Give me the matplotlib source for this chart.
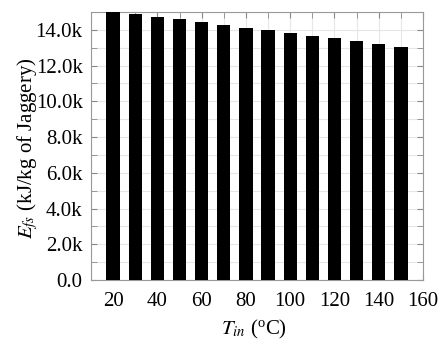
import numpy as np
import matplotlib.pyplot as plt
from matplotlib.ticker import MultipleLocator, FuncFormatter

plt.rcParams['font.family'] = ['Liberation Serif', 'DejaVu Serif']
plt.rcParams['mathtext.fontset'] = 'stix'

temps = [20, 30, 40, 50, 60, 70, 80, 90, 100, 110, 120, 130, 140, 150]
energy = [15000, 14890, 14740, 14600, 14450, 14300, 14130, 14000,
          13830, 13660, 13530, 13360, 13210, 13060]

fig = plt.figure(figsize=(4.43, 3.43), dpi=100)
ax = fig.add_axes([91 / 443, 63 / 343, 332 / 443, 268 / 343])

ax.bar(temps, energy, width=6, color='black', zorder=3)

ax.set_xlim(10, 160)
ax.set_ylim(0, 15000)
ax.xaxis.set_major_locator(MultipleLocator(20))
ax.xaxis.set_minor_locator(MultipleLocator(10))
ax.yaxis.set_major_locator(MultipleLocator(2000))
ax.yaxis.set_minor_locator(MultipleLocator(1000))
ax.yaxis.set_major_formatter(FuncFormatter(
    lambda v, p: "0.0" if v == 0 else "%.1fk" % (v / 1000)))

ax.grid(True, which='both', color='#e6e6e6', linewidth=0.8, zorder=0)
ax.tick_params(which='both', direction='in', top=True, right=True,
               color='#888888', labelsize=15, length=4)
ax.tick_params(axis='x', pad=9)
ax.tick_params(axis='y', pad=6)
for s in ax.spines.values():
    s.set_color('#999999')

ax.set_xlabel(r'$T_{in}$ ($\mathregular{^o}$C)', fontsize=15, va='center')
ax.xaxis.set_label_coords(0.49, -0.185)
ax.set_ylabel(r'$E_{fs}$ (kJ/kg of Jaggery)', fontsize=15, va='center')
ax.yaxis.set_label_coords(-0.19, 0.49)

fig.savefig('out.png', dpi=100)
